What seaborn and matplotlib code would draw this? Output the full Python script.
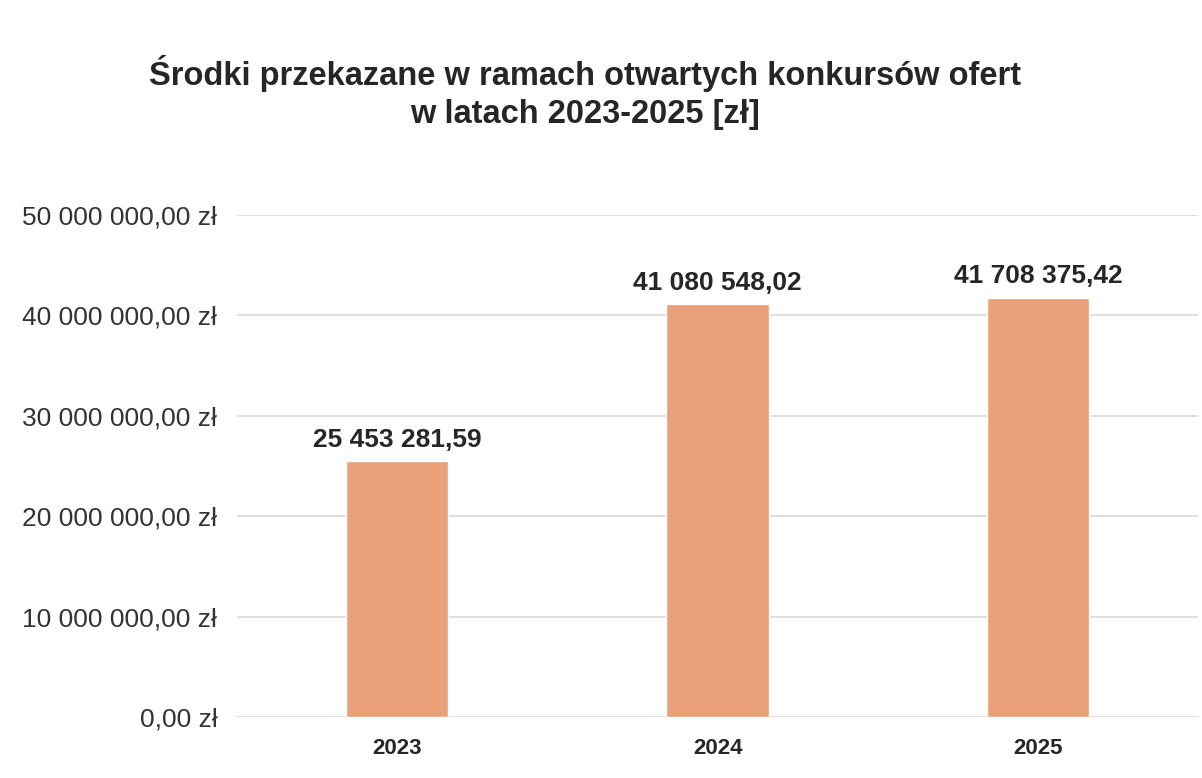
import matplotlib
matplotlib.use('Agg')

import pandas as pd
import matplotlib.pyplot as plt
import seaborn as sns
from matplotlib.ticker import FuncFormatter

# --- Dane ---
lata = ['2023', '2024', '2025']
kwoty = [25453281.59, 41080548.02, 41708375.42]
ticki_y = [0, 10000000, 20000000, 30000000, 40000000, 50000000]

KOLOR_SLUPKA = '#EAA17A'
KOLOR_TEKSTU = '#262626'
KOLOR_SIATKI = '#D9D9D9'

sns.set_theme(style='white')
plt.rcParams['font.family'] = ['Liberation Sans', 'DejaVu Sans']


def format_pl(wartosc, z_waluta=False):
    txt = f"{wartosc:,.2f}".replace(',', ' ').replace('.', ',')
    return txt + ' zł' if z_waluta else txt


df = pd.DataFrame({'rok': lata, 'kwota': kwoty})

fig = plt.figure(figsize=(12.02, 7.78), dpi=100)
ax = fig.add_axes([0.197, 0.078, 0.80, 0.646])

sns.barplot(data=df, x='rok', y='kwota', color=KOLOR_SLUPKA, width=0.32,
            saturation=1, ax=ax)

ax.set_ylim(0, 50000000)
ax.set_yticks(ticki_y)
ax.yaxis.set_major_formatter(FuncFormatter(lambda v, p: format_pl(v, True)))
ax.grid(axis='y', color=KOLOR_SIATKI, linewidth=1.2)
ax.set_axisbelow(True)
for s in ax.spines.values():
    s.set_visible(False)

ax.tick_params(axis='y', length=0, pad=14, labelsize=19, labelcolor='#333333')
ax.tick_params(axis='x', length=0, pad=15, labelsize=16, labelcolor=KOLOR_TEKSTU)
for lbl in ax.get_xticklabels():
    lbl.set_fontweight('bold')
ax.set_xlabel('')
ax.set_ylabel('')

# etykiety wartosci nad slupkami
for i, v in enumerate(kwoty):
    ax.annotate(format_pl(v), (i, v), xytext=(0, 7), textcoords='offset points',
                ha='center', va='bottom', fontsize=19, fontweight='bold',
                color=KOLOR_TEKSTU)

fig.text(0.487, 0.881, 'Środki przekazane w ramach otwartych konkursów ofert\nw latach 2023-2025 [zł]',
         ha='center', va='center', fontsize=23.5, fontweight='bold', color=KOLOR_TEKSTU,
         linespacing=1.3)

fig.savefig('out.png', dpi=100, facecolor='white')
plt.close(fig)
